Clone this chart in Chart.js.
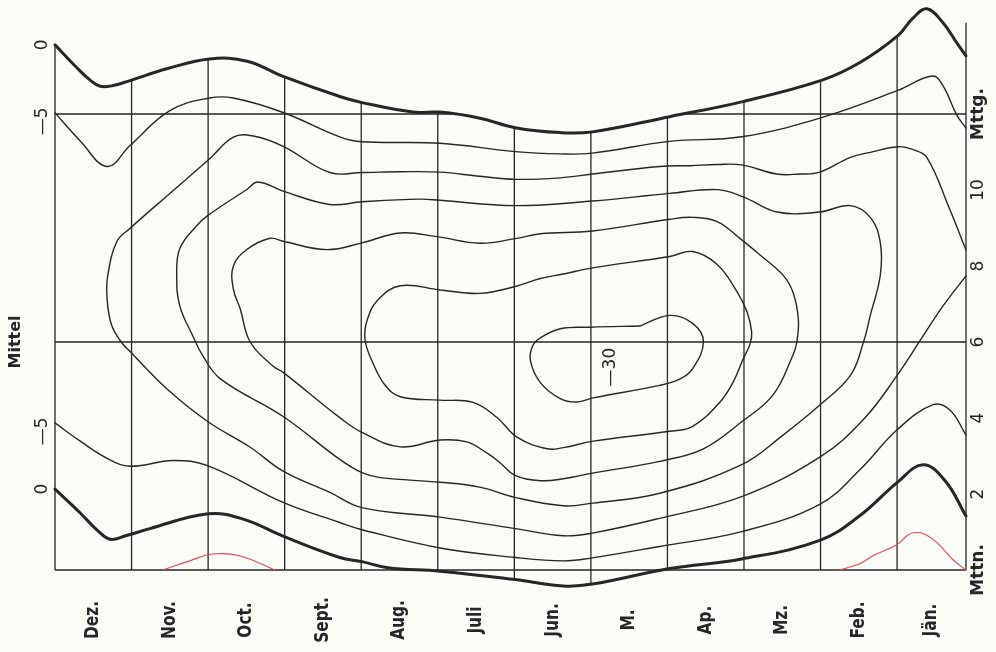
<!DOCTYPE html>
<html>
<head>
<meta charset="utf-8">
<script src="https://cdn.jsdelivr.net/npm/chart.js@4.4.1/dist/chart.umd.min.js"></script>
<style>
  html, body { margin: 0; padding: 0; background: #fbfbf7; }
  canvas { display: block; }
</style>
</head>
<body>
<canvas id="isopleths" width="996" height="652"></canvas>
<script>
// Month columns, running from December (left) to January (right)
const months = ['Dez.', 'Nov.', 'Oct.', 'Sept.', 'Aug.', 'Juli', 'Jun.', 'M.', 'Ap.', 'Mz.', 'Feb.', 'Jän.'];

// Hour axis (right side): midnight at the bottom, noon near the top
const hourTicks = [0, 2, 4, 6, 8, 10, 12];
const hourLabels = ['Mttn.', '2', '4', '6', '8', '10', 'Mttg.'];
const hourRules = [0, 6, 12];

// Isotherms as [month position, hour] pairs
const upper0 = [[0, 13.82], [0.29, 13.21], [0.46, 12.89], [0.59, 12.73], [0.76, 12.75], [0.98, 12.88], [1.46, 13.19], [2.02, 13.45], [2.51, 13.39], [2.98, 12.99], [3.72, 12.46], [4.01, 12.30], [4.68, 12.05], [5.03, 12.05], [5.55, 11.89], [6.01, 11.64], [6.60, 11.51], [7.02, 11.53], [8.03, 11.93], [8.97, 12.32], [10.02, 12.89], [10.52, 13.36], [11.01, 14.06], [11.21, 14.53], [11.39, 14.77], [11.60, 14.40], [11.78, 13.87], [11.90, 13.53]];

const lower0 = [[0, 2.13], [0.33, 1.50], [0.55, 1.05], [0.72, 0.81], [0.92, 0.90], [1.24, 1.09], [2.00, 1.48], [2.46, 1.34], [2.98, 0.89], [3.72, 0.33], [4.01, 0.22], [4.35, 0.06], [5.03, -0.03], [6.01, -0.25], [6.64, -0.42], [7.02, -0.37], [8.03, 0.04], [8.97, 0.29], [9.99, 0.78], [10.52, 1.44], [11.00, 2.30], [11.34, 2.77], [11.63, 2.34], [11.90, 1.42]];

const upper5 = [[0, 12.03], [0.33, 11.29], [0.68, 10.62], [0.98, 11.17], [1.50, 12.09], [2.02, 12.42], [2.33, 12.42], [2.98, 12.04], [3.72, 11.40], [4.01, 11.27], [5.03, 11.23], [6.01, 11.01], [6.60, 10.95], [7.02, 10.97], [8.03, 11.28], [8.97, 11.40], [10.02, 11.91], [11.01, 12.62], [11.46, 13.00], [11.60, 12.74], [11.78, 11.97], [11.90, 11.63]];

const lower5 = [[0, 3.87], [0.33, 3.39], [0.68, 2.94], [0.98, 2.73], [1.54, 2.88], [2.00, 2.74], [2.98, 1.78], [3.72, 1.25], [4.01, 1.06], [5.03, 0.58], [6.01, 0.33], [6.64, 0.24], [7.02, 0.32], [7.90, 0.62], [8.97, 1.01], [9.99, 1.73], [10.52, 2.65], [11.00, 3.69], [11.47, 4.35], [11.69, 4.21], [11.90, 3.55]];

const iso10 = [[11.90, 8.42], [11.69, 9.48], [11.39, 10.85], [11.21, 11.06], [11.01, 11.14], [10.65, 10.99], [10.39, 10.86], [9.99, 10.47], [9.73, 10.42], [9.43, 10.42], [8.97, 10.66], [8.65, 10.67], [8.30, 10.64], [7.90, 10.62], [7.02, 10.42], [6.60, 10.32], [6.01, 10.28], [5.55, 10.36], [5.03, 10.47], [4.51, 10.48], [4.01, 10.46], [3.59, 10.46], [2.98, 11.15], [2.59, 11.42], [2.33, 11.39], [2.02, 10.82], [1.50, 9.91], [0.98, 8.99], [0.81, 8.65], [0.69, 7.76], [0.68, 7.15], [0.74, 6.44], [0.88, 5.96], [0.98, 5.75], [1.46, 4.77], [2.00, 3.90], [2.55, 3.23], [2.98, 2.60], [3.59, 2.04], [4.01, 1.64], [5.03, 1.39], [6.01, 1.09], [6.64, 0.90], [7.02, 0.97], [7.90, 1.36], [8.97, 1.93], [9.99, 2.97], [10.56, 3.96], [11.00, 5.12], [11.34, 6.16], [11.60, 6.95], [11.90, 7.74]];

const iso15 = [[5.03, 9.73], [6.01, 9.59], [7.02, 9.71], [8.03, 9.91], [8.65, 10.01], [8.99, 9.82], [9.43, 9.42], [9.99, 9.42], [10.39, 9.59], [10.65, 9.28], [10.78, 8.62], [10.78, 7.75], [10.65, 6.70], [10.56, 5.99], [10.39, 5.12], [9.99, 4.34], [9.51, 3.55], [8.97, 2.77], [7.90, 2.02], [7.02, 1.76], [6.64, 1.69], [6.01, 1.91], [5.55, 2.18], [5.03, 2.31], [4.25, 2.43], [4.01, 2.56], [3.72, 2.91], [2.98, 4.04], [2.16, 5.03], [1.93, 5.64], [1.80, 6.16], [1.63, 6.95], [1.59, 7.74], [1.63, 8.46], [1.85, 9.06], [1.99, 9.32], [2.51, 10.02], [2.65, 10.21], [2.98, 9.97], [3.59, 9.62], [4.01, 9.69], [4.77, 9.76], [5.03, 9.73]];

const iso20 = [[5.03, 8.76], [5.55, 8.60], [6.01, 8.72], [6.34, 8.85], [7.02, 8.92], [8.03, 9.23], [8.33, 9.28], [8.65, 9.17], [8.95, 8.72], [9.21, 8.29], [9.51, 7.76], [9.64, 7.31], [9.71, 6.60], [9.69, 6.00], [9.64, 5.66], [9.38, 4.61], [8.97, 3.90], [8.47, 3.19], [7.90, 2.86], [7.02, 2.55], [6.64, 2.40], [6.34, 2.35], [6.01, 2.49], [5.81, 2.83], [5.64, 3.08], [5.38, 3.37], [5.03, 3.42], [4.51, 3.24], [4.01, 3.62], [3.72, 4.01], [2.98, 5.20], [2.85, 5.36], [2.55, 6.00], [2.42, 6.87], [2.33, 7.39], [2.33, 8.00], [2.51, 8.44], [2.81, 8.73], [2.98, 8.65], [3.55, 8.43], [4.01, 8.61], [4.51, 8.87], [5.03, 8.76]];

const iso25 = [[5.03, 7.37], [5.55, 7.28], [6.01, 7.46], [6.34, 7.67], [6.64, 7.79], [7.02, 7.95], [8.03, 8.25], [8.33, 8.38], [8.65, 8.04], [8.91, 7.32], [9.04, 6.79], [9.10, 6.27], [9.08, 5.95], [8.99, 5.56], [8.86, 4.95], [8.69, 4.43], [8.33, 3.78], [8.03, 3.65], [7.03, 3.39], [6.64, 3.22], [6.43, 3.19], [6.04, 3.49], [5.77, 4.02], [5.46, 4.41], [5.03, 4.47], [4.51, 4.56], [4.31, 4.87], [4.15, 5.46], [4.05, 6.06], [4.08, 6.59], [4.22, 7.11], [4.51, 7.48], [5.03, 7.37]];

const iso30 = [[7.64, 6.42], [8.03, 6.70], [8.33, 6.49], [8.47, 6.01], [8.33, 5.30], [8.16, 5.02], [7.90, 4.86], [7.03, 4.53], [6.82, 4.42], [6.60, 4.51], [6.34, 4.93], [6.21, 5.51], [6.24, 5.90], [6.34, 6.11], [6.60, 6.35], [6.99, 6.39], [7.64, 6.42]];

// Warm pockets near midnight (red)
const warmOct = [[1.41, 0], [1.76, 0.24], [2.06, 0.42], [2.42, 0.37], [2.87, 0]];
const warmJan = [[10.25, 0], [10.52, 0.17], [10.69, 0.38], [11.00, 0.67], [11.13, 0.90], [11.21, 0.98], [11.34, 0.96], [11.52, 0.72], [11.73, 0.27], [11.90, 0]];

const INK = '#262626';
const RED = '#e5484d';
const FONT_MONTH = 'bold 19px "Liberation Sans Narrow", "DejaVu Sans Condensed", sans-serif';
const FONT_NUM = '17px "DejaVu Sans", sans-serif';
const FONT_WORD = 'bold 17px "DejaVu Sans", sans-serif';
const FONT_TITLE = 'bold 16px "DejaVu Sans", sans-serif';

function isoline(label, pts, extra) {
  return Object.assign({
    label,
    data: pts.map(([x, y]) => ({ x, y })),
    borderColor: INK,
    borderWidth: 1.4,
    tension: 0.4,
    pointRadius: 0,
    fill: false,
    clip: false
  }, extra || {});
}

const datasets = [
  isoline('0', upper0, { borderWidth: 3, edgeLabel: true }),
  isoline('0', lower0, { borderWidth: 3, edgeLabel: true }),
  isoline('—5', upper5, { edgeLabel: true }),
  isoline('—5', lower5, { edgeLabel: true }),
  isoline('—10', iso10),
  isoline('—15', iso15),
  isoline('—20', iso20),
  isoline('—25', iso25),
  isoline('—30', iso30, { valueLabel: '—30', labelAt: [7.26, 5.34] }),
  isoline('warm', warmOct, { borderColor: RED, borderWidth: 1.1 }),
  isoline('warm', warmJan, { borderColor: RED, borderWidth: 1.1 })
];

// Text rotated to read upwards; month names are set a little narrower
function vText(ctx, text, x, y, align, squeeze) {
  ctx.save();
  ctx.translate(x, y);
  ctx.rotate(-Math.PI / 2);
  if (squeeze) ctx.scale(squeeze, 1);
  ctx.textAlign = align || 'center';
  ctx.textBaseline = 'middle';
  ctx.fillText(text, 0, 0);
  ctx.restore();
}

// Month and hour rulings, kept inside the two 0° isotherms
const ruling = {
  id: 'ruling',
  beforeDatasetsDraw(chart) {
    const { ctx, chartArea, scales: { x, y } } = chart;
    const top = chart.getDatasetMeta(0).dataset;
    const bottom = chart.getDatasetMeta(1).dataset;
    top.updateControlPoints(chartArea, 'x');
    bottom.updateControlPoints(chartArea, 'x');
    const L = x.getPixelForValue(x.min), R = x.getPixelForValue(x.max);
    const base = y.getPixelForValue(0);
    const H = chart.height;
    const tp = top.points, bp = bottom.points;

    ctx.save();
    ctx.strokeStyle = INK;
    ctx.lineWidth = 1.3;

    // below the upper 0° line
    ctx.beginPath();
    top.path(ctx);
    ctx.lineTo(R + 3, tp[tp.length - 1].y);
    ctx.lineTo(R + 3, H);
    ctx.lineTo(L - 3, H);
    ctx.lineTo(L - 3, tp[0].y);
    ctx.closePath();
    ctx.clip();

    ctx.beginPath();
    hourRules.forEach(h => {
      const py = y.getPixelForValue(h);
      ctx.moveTo(L, py);
      ctx.lineTo(R, py);
    });
    ctx.stroke();

    // above the midnight line, or above the lower 0° line where it dips below
    ctx.beginPath();
    ctx.moveTo(L - 3, base);
    ctx.lineTo(R + 3, base);
    ctx.lineTo(R + 3, 0);
    ctx.lineTo(L - 3, 0);
    ctx.closePath();
    bottom.path(ctx);
    ctx.lineTo(R + 3, bp[bp.length - 1].y);
    ctx.lineTo(R + 3, 0);
    ctx.lineTo(L - 3, 0);
    ctx.lineTo(L - 3, bp[0].y);
    ctx.closePath();
    ctx.clip();

    ctx.beginPath();
    months.forEach((_, i) => {
      const px = x.getPixelForValue(i);
      ctx.moveTo(px, 0);
      ctx.lineTo(px, H);
    });
    ctx.stroke();
    ctx.restore();

    // right frame edge
    ctx.save();
    ctx.strokeStyle = INK;
    ctx.lineWidth = 1.3;
    ctx.beginPath();
    ctx.moveTo(R, base);
    ctx.lineTo(R, y.getPixelForValue(y.max));
    ctx.stroke();
    ctx.restore();
  }
};

// Month names, hour labels and isotherm values
const lettering = {
  id: 'lettering',
  afterDatasetsDraw(chart) {
    const { ctx, scales: { x, y } } = chart;
    const L = x.getPixelForValue(x.min), R = x.getPixelForValue(x.max);
    const base = y.getPixelForValue(0);
    ctx.save();
    ctx.fillStyle = INK;

    ctx.font = FONT_MONTH;
    months.forEach((m, i) => {
      const cx = x.getPixelForValue((i + Math.min(i + 1, x.max)) / 2);
      vText(ctx, m, cx, base + 50, 'center', 0.9);
    });

    hourTicks.forEach((h, i) => {
      const text = hourLabels[i];
      ctx.font = isNaN(Number(text)) ? FONT_WORD : FONT_NUM;
      vText(ctx, text, R + 13, y.getPixelForValue(h));
    });

    ctx.font = FONT_NUM;
    chart.data.datasets.forEach((ds, i) => {
      if (ds.edgeLabel) {
        const p = chart.getDatasetMeta(i).data[0];
        const half = ctx.measureText(ds.label.slice(-1)).width / 2;
        vText(ctx, ds.label, L - 12, p.y - half, 'right');
      }
      if (ds.valueLabel) {
        vText(ctx, ds.valueLabel, x.getPixelForValue(ds.labelAt[0]), y.getPixelForValue(ds.labelAt[1]));
      }
    });

    ctx.font = FONT_TITLE;
    vText(ctx, 'Mittel', L - 39, y.getPixelForValue(6));
    ctx.restore();
  }
};

new Chart(document.getElementById('isopleths'), {
  type: 'line',
  data: { datasets },
  options: {
    responsive: false,
    animation: false,
    events: [],
    layout: { padding: { left: 55, right: 30, top: 22.8, bottom: 82 } },
    scales: {
      x: { type: 'linear', display: false, min: 0, max: 11.9 },
      y: { type: 'linear', display: false, min: 0, max: 14.4 }
    },
    elements: {
      point: { radius: 0 },
      line: { capBezierPoints: false, borderCapStyle: 'round', borderJoinStyle: 'round' }
    },
    plugins: { legend: { display: false }, tooltip: { enabled: false } }
  },
  plugins: [ruling, lettering]
});
</script>
</body>
</html>
